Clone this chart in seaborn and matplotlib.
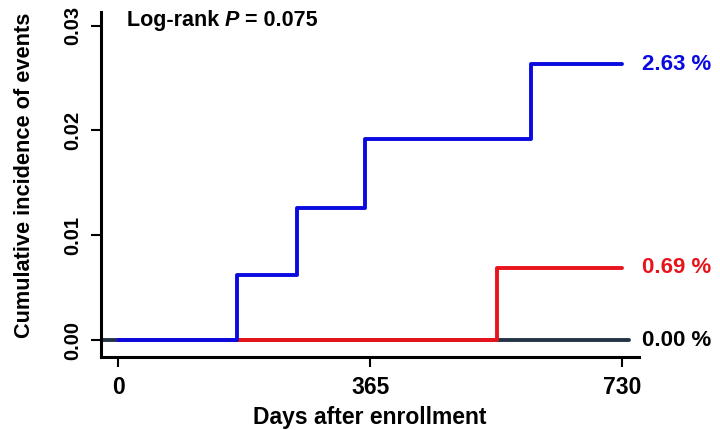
import matplotlib
matplotlib.use("Agg")
import matplotlib.pyplot as plt
from matplotlib.offsetbox import TextArea, HPacker, AnchoredOffsetbox
import numpy as np
import pandas as pd
import seaborn as sns

# step curves (days, cumulative incidence)
blue_days = [0, 172, 259, 357, 598, 730]
blue_inc = [0.0, 0.0062, 0.0126, 0.0192, 0.0263, 0.0263]
red_days = [0, 549, 730]
red_inc = [0.0, 0.0069, 0.0069]
black_days = [-22, 740]
black_inc = [0.0, 0.0]

end_labels = ["2.63 %", "0.69 %", "0.00 %"]
x_ticks = [0, 365, 730]
y_ticks = [0.00, 0.01, 0.02, 0.03]

BLUE = "#0a0ae0"
RED = "#e8141c"
DARK = "#243447"

sns.set_theme(style="ticks")
plt.rcParams["font.family"] = ["Liberation Sans", "DejaVu Sans"]
plt.rcParams["font.weight"] = "bold"

fig = plt.figure(figsize=(7.2, 4.3), dpi=100)
ax = fig.add_axes([0.140, 0.170, 0.748, 0.802])

curves = [
    (black_days, black_inc, DARK),
    (red_days, red_inc, RED),
    (blue_days, blue_inc, BLUE),
]
for days, inc, col in curves:
    df = pd.DataFrame({"day": days, "inc": inc})
    sns.lineplot(data=df, x="day", y="inc", ax=ax, color=col, lw=2.8,
                 drawstyle="steps-post", estimator=None, sort=False)

# percentages at the right end of each curve
for (days, inc, col), lab in zip([curves[2], curves[1], curves[0]], end_labels):
    txt_col = "black" if col == DARK else col
    ax.annotate(lab, xy=(730, inc[-1]), xytext=(14, 0), textcoords="offset points",
                ha="left", va="center", fontsize=16, fontweight="bold",
                color=txt_col, annotation_clip=False)

ax.set_xlim(-25, 755)
ax.set_ylim(-0.0016, 0.0313)
ax.set_xticks(x_ticks)
ax.set_xticklabels([str(t) for t in x_ticks], fontsize=16.5)
ax.set_yticks(y_ticks)
ax.set_yticklabels([f"{t:.2f}" for t in y_ticks], rotation=90, va="center",
                   fontsize=14.5)

ax.tick_params(axis="both", direction="out", length=7, width=1.5,
               color="black", labelcolor="black")
ax.tick_params(axis="x", pad=7)
ax.tick_params(axis="y", pad=6)

for side in ["top", "right"]:
    ax.spines[side].set_visible(False)
for side in ["left", "bottom"]:
    ax.spines[side].set_linewidth(2.2)
    ax.spines[side].set_color("black")

ax.set_xlabel("Days after enrollment", fontsize=16.5, fontweight="bold",
              color="black", labelpad=5)
ax.set_ylabel("Cumulative incidence of events", fontsize=15.7, fontweight="bold",
              color="black")
ax.yaxis.set_label_coords(-0.122, 0.527)

# "Log-rank P = 0.075" with italic P
props = dict(fontsize=15.5, fontweight="bold", color="black",
             family=["Liberation Sans", "DejaVu Sans"])
parts = [
    TextArea("Log-rank ", textprops=props),
    TextArea("P", textprops=dict(props, style="italic")),
    TextArea(" = 0.075", textprops=props),
]
box = HPacker(children=parts, align="baseline", pad=0, sep=0)
anchored = AnchoredOffsetbox(loc="upper left", child=box, frameon=False,
                             bbox_to_anchor=(0.048, 1.005), bbox_transform=ax.transAxes,
                             borderpad=0, pad=0)
ax.add_artist(anchored)

fig.savefig("out.png", dpi=100)
